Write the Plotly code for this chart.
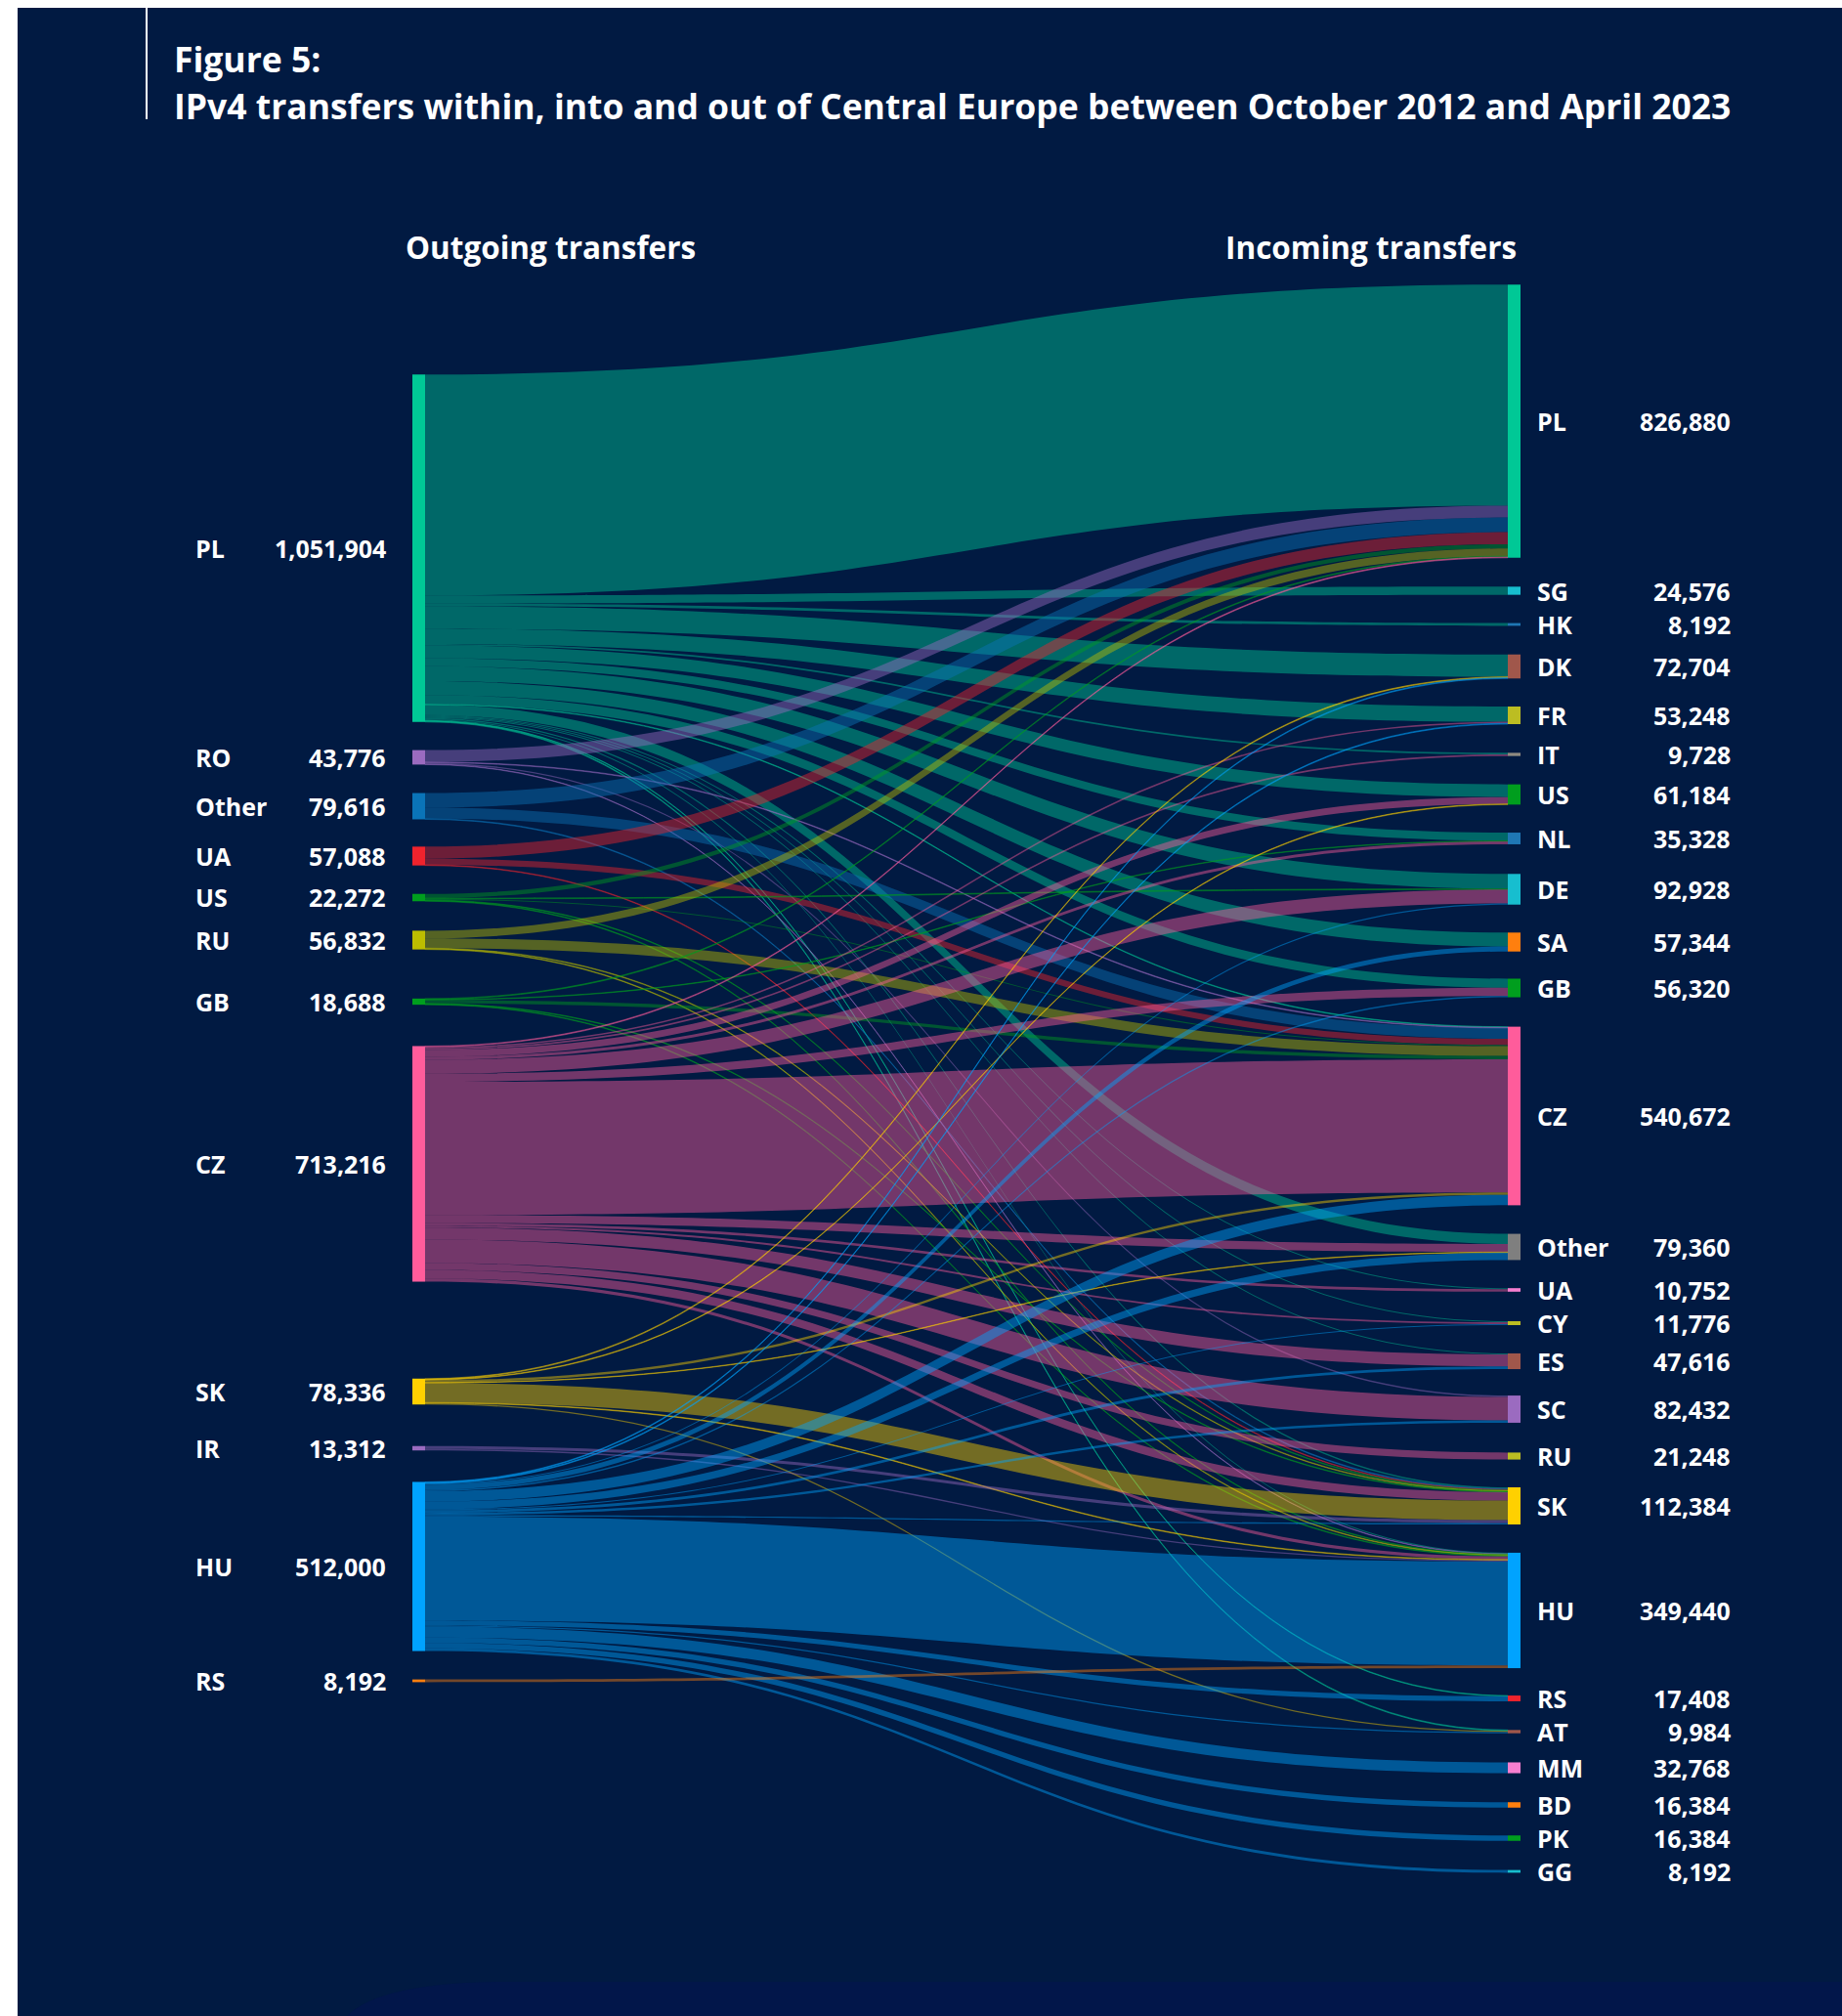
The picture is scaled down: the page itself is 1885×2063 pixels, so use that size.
import plotly.graph_objects as go

# ---------------- data ----------------
src_codes = ["PL", "RO", "Other", "UA", "US", "RU", "GB", "CZ", "SK", "IR", "HU", "RS"]
src_totals = [1051904, 43776, 79616, 57088, 22272, 56832, 18688, 713216, 78336, 13312, 512000, 8192]

tgt_codes = ["PL", "SG", "HK", "DK", "FR", "IT", "US", "NL", "DE", "SA", "GB", "CZ", "Other",
             "UA", "CY", "ES", "SC", "RU", "SK", "HU", "RS", "AT", "MM", "BD", "PK", "GG"]
tgt_totals = [826880, 24576, 8192, 72704, 53248, 9728, 61184, 35328, 92928, 57344, 56320, 540672,
              79360, 10752, 11776, 47616, 82432, 21248, 112384, 349440, 17408, 9984, 32768, 16384,
              16384, 8192]

from_PL = {"PL": 669184, "SG": 24576, "HK": 8192, "DK": 67584, "FR": 46080, "IT": 4864, "US": 38400,
           "NL": 24576, "DE": 45056, "SA": 41984, "GB": 27648, "CZ": 2048, "Other": 30720, "UA": 3072,
           "CY": 3072, "ES": 3072, "SK": 4096, "HU": 3072, "RS": 2048, "AT": 2560}
from_RO = {"PL": 35840, "CZ": 2048, "SC": 4352, "HU": 1536}
from_Other = {"PL": 44544, "CZ": 32768, "SK": 2304}
from_UA = {"PL": 36352, "CZ": 18688, "SK": 2048}
from_US = {"PL": 12800, "DE": 2304, "CZ": 3072, "SK": 2048, "HU": 2048}
from_RU = {"PL": 23040, "CZ": 29696, "SK": 2048, "HU": 2048}
from_GB = {"PL": 2560, "NL": 1792, "CZ": 10240, "SK": 2048, "HU": 2048}
from_CZ = {"PL": 2560, "FR": 4608, "IT": 4864, "US": 20736, "NL": 8960, "DE": 41984, "GB": 24576,
           "CZ": 403200, "Other": 24576, "UA": 7680, "CY": 5632, "ES": 36352, "SC": 70912, "RU": 21248,
           "SK": 25600, "HU": 9728}
from_SK = {"DK": 2560, "US": 2048, "Other": 1536, "CZ": 7168, "SK": 59136, "HU": 2048, "AT": 3840}
from_IR = {"SK": 9216, "HU": 4096}
from_HU = {"DK": 2560, "FR": 2560, "DE": 3584, "SA": 15360, "GB": 4096, "CZ": 31744, "Other": 22528,
           "CY": 3072, "ES": 8192, "SC": 7168, "SK": 3840, "HU": 314624, "RS": 15360, "AT": 3584,
           "MM": 32768, "BD": 16384, "PK": 16384, "GG": 8192}
from_RS = {"HU": 8192}

flows = [from_PL, from_RO, from_Other, from_UA, from_US, from_RU, from_GB, from_CZ,
         from_SK, from_IR, from_HU, from_RS]

# ---------------- styles / layout ----------------
src_colors = ["#00C896", "#9B6BC0", "#0A74B8", "#F0232D", "#009E1E", "#BCBD00", "#009E1E",
              "#FF5C9B", "#FFD000", "#9B6BC0", "#00A3FF", "#FF7F0E"]
tgt_colors = ["#00C896", "#17BECF", "#1F77B4", "#A0574B", "#BCBD22", "#8F8A80", "#009E1E", "#1F77B4",
              "#17BECF", "#FF7F0E", "#009E1E", "#FF5C9B", "#7F7F7F", "#F77FD0", "#BCBD22", "#A0574B",
              "#9B6BC0", "#BCBD22", "#FFD000", "#00A3FF", "#F0232D", "#A0574B", "#F77FD0", "#FF7F0E",
              "#009E1E", "#17BECF"]

# node centre positions in screen pixels
left_y_px = [561, 775, 825, 876, 918.5, 962, 1025, 1191, 1424, 1482, 1603, 1720]
right_y_px = [431, 604.5, 639, 682, 732, 772, 813, 858, 910, 964, 1011, 1142, 1276, 1320, 1354,
              1393, 1442, 1490, 1541, 1648, 1738, 1772, 1809, 1847, 1881, 1915]

BG = "#011A42"
W_FIG, H_FIG = 1885, 2063
DX0, DX1 = 380, 1600    # sankey domain (px)
DY0, DY1 = 250, 1950
SW, SH = DX1 - DX0, DY1 - DY0
LEFT_X, RIGHT_X = 428.5, 1549.5
KY = 3.38e-4
TOTAL = sum(src_totals)
PAD = (SH - KY * TOTAL) / (len(tgt_codes) - 1)


def hex_rgba(h, a):
    h = h.lstrip("#")
    return "rgba(%d,%d,%d,%.2f)" % (int(h[0:2], 16), int(h[2:4], 16), int(h[4:6], 16), a)


def fx(x):  # screen px -> paper
    return x / W_FIG


def fy(y):
    return 1 - y / H_FIG


n_src = len(src_codes)
sources, targets, values, lcolors = [], [], [], []
for i, d in enumerate(flows):
    for code, v in d.items():
        sources.append(i)
        targets.append(n_src + tgt_codes.index(code))
        values.append(v)
        lcolors.append(hex_rgba(src_colors[i], 0.45))

node_x = [(LEFT_X - DX0) / SW] * n_src + [(RIGHT_X - DX0) / SW] * len(tgt_codes)
node_y = [(y - DY0) / SH for y in left_y_px] + [(y - DY0) / SH for y in right_y_px]

fig = go.Figure(go.Sankey(
    arrangement="fixed",
    domain=dict(x=[DX0 / W_FIG, DX1 / W_FIG], y=[1 - DY1 / H_FIG, 1 - DY0 / H_FIG]),
    node=dict(
        label=[""] * (n_src + len(tgt_codes)),
        customdata=src_codes + tgt_codes,
        hovertemplate="%{customdata}: %{value:,}<extra></extra>",
        x=node_x, y=node_y,
        pad=PAD, thickness=13,
        color=src_colors + tgt_colors,
        line=dict(width=0),
    ),
    link=dict(source=sources, target=targets, value=values, color=lcolors),
))

lab_font = dict(family="Open Sans", size=25, color="white", weight="bold")
ann = []
for code, tot, y in zip(src_codes, src_totals, left_y_px):
    ann.append(dict(x=fx(198), y=fy(y), text=code, xanchor="left", yanchor="middle", font=lab_font))
    ann.append(dict(x=fx(397), y=fy(y), text=f"{tot:,}", xanchor="right", yanchor="middle", font=lab_font))
for code, tot, y in zip(tgt_codes, tgt_totals, right_y_px):
    ann.append(dict(x=fx(1571), y=fy(y), text=code, xanchor="left", yanchor="middle", font=lab_font))
    ann.append(dict(x=fx(1773), y=fy(y), text=f"{tot:,}", xanchor="right", yanchor="middle", font=lab_font))

title_font = dict(family="Open Sans", size=35.5, color="white", weight="bold")
ann.append(dict(x=fx(176), y=fy(60), text="Figure 5:", xanchor="left", yanchor="middle", font=title_font))
ann.append(dict(x=fx(176), y=fy(108),
                text="IPv4 transfers within, into and out of Central Europe between October 2012 and April 2023",
                xanchor="left", yanchor="middle", font=title_font))
head_font = dict(family="Open Sans", size=31.5, color="white", weight="bold")
ann.append(dict(x=fx(563), y=fy(253), text="Outgoing transfers", xanchor="center", yanchor="middle", font=head_font))
ann.append(dict(x=fx(1403), y=fy(253), text="Incoming transfers", xanchor="center", yanchor="middle", font=head_font))
for a in ann:
    a.update(xref="paper", yref="paper", showarrow=False)

shapes = [
    # subtle darker band at the bottom
    dict(type="path", xref="paper", yref="paper", layer="below", line=dict(width=0), fillcolor="#02164A",
         path="M %f %f L %f %f L %f %f L %f %f Q %f %f %f %f Z" % (
             fx(520), fy(2028), fx(1885), fy(2028), fx(1885), fy(2063), fx(355), fy(2063),
             fx(390), fy(2028), fx(520), fy(2028))),
    # white strips on the left and top
    dict(type="rect", xref="paper", yref="paper", layer="above", line=dict(width=0), fillcolor="white",
         x0=0, x1=fx(18), y0=0, y1=1),
    dict(type="rect", xref="paper", yref="paper", layer="above", line=dict(width=0), fillcolor="white",
         x0=0, x1=1, y0=fy(8), y1=1),
    # thin vertical rule next to the title
    dict(type="line", xref="paper", yref="paper", layer="above", line=dict(color="white", width=2),
         x0=fx(150), x1=fx(150), y0=fy(122), y1=fy(8)),
]

fig.update_layout(
    width=W_FIG, height=H_FIG,
    margin=dict(l=0, r=0, t=0, b=0),
    paper_bgcolor=BG, plot_bgcolor=BG,
    annotations=ann, shapes=shapes,
    font=dict(family="Open Sans", color="white"),
)

fig.write_html(
    "out.html",
    config={"displayModeBar": False},
    post_script="document.body.style.margin='0';document.body.style.overflow='hidden';",
)
